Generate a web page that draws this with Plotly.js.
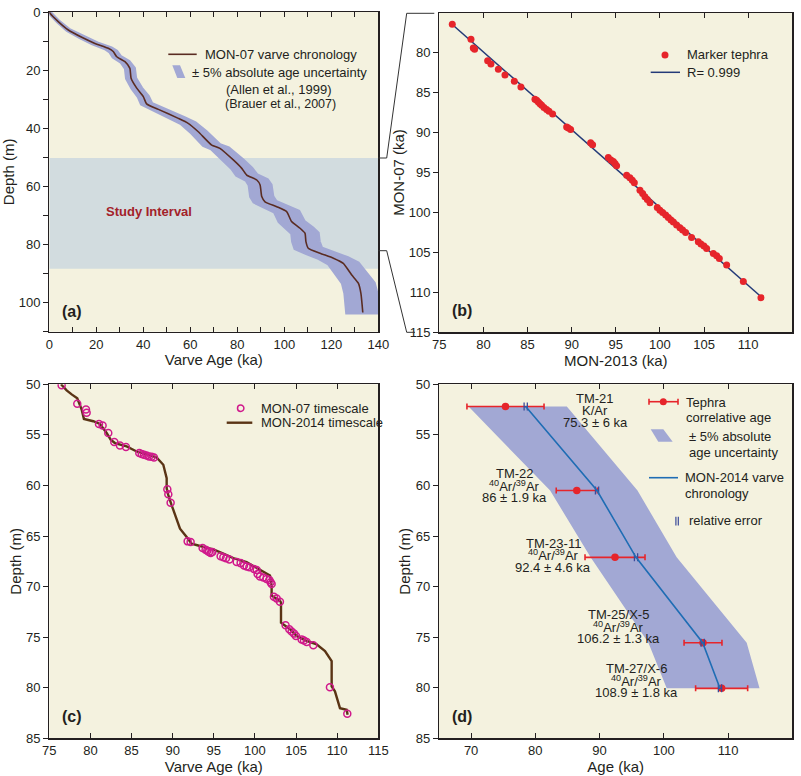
<!DOCTYPE html>
<html>
<head>
<meta charset="utf-8">
<script src="https://cdn.plot.ly/plotly-3.0.1.min.js"></script>
<style>html,body{margin:0;padding:0;background:#fff;}#chart{width:801px;height:776px;}</style>
</head>
<body>
<div id="chart"></div>
<script>
// ---------- Panel (a): MON-07 varve chronology ----------
const ageA = [0, 0.3, 3.8, 8.1, 13.8, 19.4, 25.1, 27.2, 28.7, 32.2, 34.3, 34.8, 37.2, 40.0, 41.4, 46.4, 54.9, 59.1, 63.4, 69.1, 72.6, 78.3, 81.9, 84.0, 88.3, 89.7, 90.4, 91.8, 96.8, 101.0, 103.1, 106.7, 108.8, 109.2, 110.2, 115.2, 120.9, 125.1, 128.7, 131.5, 132.6, 133.4];
const depthA = [0, 0.45, 3.3, 6.2, 8.7, 10.8, 12.5, 13.6, 15.4, 17.1, 19.4, 22.8, 26.2, 29.1, 31.6, 33.5, 36.6, 38.3, 41.2, 45.8, 46.9, 50.9, 53.8, 56.1, 57.8, 59.5, 63.5, 65.3, 67.0, 68.7, 72.1, 74.4, 76.1, 79.0, 81.3, 83.0, 84.7, 86.5, 90.5, 93.3, 96.8, 103.4];
const ageUncertainty = 0.05; // ± 5% absolute age uncertainty
const studyInterval = [50.2, 88.3];

// ---------- Panel (b): marker tephra MON-2013 vs MON-07 ----------
const mon2013 = [76.47, 78.59, 78.85, 79.0, 80.48, 80.85, 81.69, 82.44, 83.50, 84.25, 85.84, 86.03, 86.22, 86.41, 86.60, 86.86, 87.16, 87.43, 87.84, 89.43, 89.62, 89.88, 92.15, 92.37, 94.15, 94.45, 94.72, 94.91, 95.09, 96.23, 96.60, 96.87, 97.10, 97.74, 98.04, 98.30, 98.57, 98.87, 99.70, 100.0, 100.31, 100.65, 100.95, 101.25, 101.52, 101.89, 102.27, 102.57, 102.91, 103.59, 104.35, 104.65, 104.99, 105.29, 106.05, 106.43, 106.73, 107.56, 109.45, 111.45];
const mon07 = [76.46, 78.33, 79.42, 79.58, 81.0, 81.42, 82.08, 82.79, 83.58, 84.29, 85.83, 85.96, 86.17, 86.38, 86.58, 86.88, 87.13, 87.33, 87.67, 89.29, 89.42, 89.63, 91.29, 91.54, 93.13, 93.42, 93.63, 93.88, 94.17, 95.33, 95.67, 95.96, 96.29, 97.21, 97.63, 98.04, 98.38, 98.79, 99.38, 99.71, 100.0, 100.33, 100.63, 100.96, 101.21, 101.58, 101.92, 102.21, 102.5, 103.13, 103.67, 103.96, 104.21, 104.5, 105.13, 105.42, 105.75, 106.58, 108.63, 110.67];
const fitX = [76.6, 111.3];
const fitY = [76.6, 110.4];

// ---------- Panel (c): MON-2014 timescale vs MON-07 timescale ----------
const ageC = [76.42, 77.11, 77.72, 78.40, 78.93, 79.21, 80.35, 81.16, 81.97, 82.46, 82.98, 84.40, 85.62, 86.83, 88.05, 88.86, 89.18, 89.27, 89.27, 89.47, 89.87, 90.40, 90.89, 91.70, 92.30, 93.32, 94.94, 96.16, 97.37, 98.99, 100.0, 101.02, 101.83, 102.03, 102.03, 103.04, 103.17, 103.17, 104.26, 105.07, 106.29, 107.50, 108.52, 109.33, 109.33, 109.73, 110.14, 110.34, 111.15, 111.27];
const depthC = [50.0, 50.60, 51.00, 51.39, 52.49, 53.42, 53.65, 53.92, 54.81, 55.47, 55.81, 56.14, 56.64, 56.97, 57.23, 57.96, 58.96, 59.29, 60.29, 60.95, 61.94, 63.11, 64.27, 65.10, 65.76, 65.99, 66.32, 66.75, 67.19, 67.58, 68.08, 68.51, 68.91, 69.91, 70.90, 71.40, 71.57, 73.56, 74.22, 74.88, 75.38, 75.71, 76.38, 77.37, 79.86, 80.36, 81.35, 82.02, 82.18, 82.68];
const mon07AgeC = [76.50, 78.40, 79.46, 79.54, 81.04, 81.48, 82.17, 82.90, 83.59, 84.32, 85.94, 86.23, 86.51, 86.83, 87.12, 87.44, 87.73, 89.35, 89.47, 89.75, 91.82, 92.18, 93.64, 94.0, 94.21, 94.41, 94.62, 94.82, 95.83, 96.16, 96.48, 96.89, 97.78, 98.26, 98.67, 98.99, 99.32, 99.88, 100.21, 100.33, 100.61, 101.02, 101.42, 101.75, 101.91, 102.03, 102.31, 102.64, 103.04, 103.73, 104.18, 104.46, 104.75, 104.99, 105.68, 105.96, 106.29, 107.10, 109.12, 111.23];
const mon07DepthC = [50.10, 51.92, 52.49, 52.82, 53.92, 54.08, 54.81, 55.71, 56.04, 56.21, 56.80, 56.90, 56.97, 57.03, 57.13, 57.17, 57.23, 60.38, 60.88, 61.71, 65.53, 65.59, 66.19, 66.36, 66.46, 66.59, 66.69, 66.59, 66.99, 67.09, 67.19, 67.32, 67.58, 67.68, 67.92, 68.02, 68.08, 68.25, 68.35, 68.75, 69.01, 69.11, 69.24, 69.34, 69.58, 69.74, 71.0, 71.17, 71.50, 73.82, 74.22, 74.45, 74.65, 74.88, 75.22, 75.32, 75.48, 75.81, 79.96, 82.58];

// ---------- Panel (d): tephra correlative ages ----------
const tephraNames = ['TM-21', 'TM-22', 'TM-23-11', 'TM-25/X-5', 'TM-27/X-6'];
const tephraMethods = ['K/Ar', '<sup>40</sup>Ar/<sup>39</sup>Ar', '<sup>40</sup>Ar/<sup>39</sup>Ar', '<sup>40</sup>Ar/<sup>39</sup>Ar', '<sup>40</sup>Ar/<sup>39</sup>Ar'];
const tephraAgeLabels = ['75.3 ± 6 ka', '86 ± 1.9 ka', '92.4 ± 4.6 ka', '106.2 ± 1.3 ka', '108.9 ± 1.8 ka'];
const tephraDepth = [52.2, 60.5, 67.11, 75.55, 80.06];
const tephraAge = [75.35, 86.45, 92.4, 106.1, 109.0];
const tephraErr = [6.0, 3.2, 4.67, 2.95, 4.05];
const varveAgeD = [78.5, 89.6, 95.67, 106.05, 108.74];
const relErrD = [0.25, 0.25, 0.25, 0.25, 0.25];
const bandDepthD = [52.2, 60.5, 67.11, 75.55, 80.06];
const bandLeftD = [69.6, 82.3, 88.6, 97.6, 100.45];
const bandRightD = [84.9, 95.9, 102.0, 112.9, 114.9];
const labelAgeD = [89.3, 76.8, 82.8, 93.0, 95.8];
const labelDepthD = [52.59, 60.02, 66.88, 73.96, 79.31];

// ---------- styling ----------
const FONT = '"Liberation Sans", Arial, sans-serif';
const INK = '#231f20';
const BG = '#f4f2df';
const BAND = '#a2a8d4';
const BROWN = '#5a2c22';
const BROWN_C = '#5a3415';
const RED = '#e6252b';
const MAGENTA = '#d01a8c';
const NAVY = '#233a78';
const BLUE = '#1f6db4';
const W = 801, H = 776;
const PX = x => x / W;
const PY = y => 1 - y / H;

const rev = a => a.slice().reverse();
const bandLowA = ageA.map(v => v * (1 - ageUncertainty));
const bandHighA = ageA.map(v => v * (1 + ageUncertainty));

const traces = [
  // (a)
  {x: bandLowA.concat(rev(bandHighA)), y: depthA.concat(rev(depthA)), type: 'scatter', mode: 'lines',
   fill: 'toself', fillcolor: BAND, line: {width: 4, color: BAND}, xaxis: 'x', yaxis: 'y', hoverinfo: 'skip', showlegend: false},
  {x: ageA, y: depthA, type: 'scatter', mode: 'lines', line: {color: BROWN, width: 1.6, shape: 'spline', smoothing: 0.5}, xaxis: 'x', yaxis: 'y', showlegend: false},
  // (b)
  {x: fitX, y: fitY, type: 'scatter', mode: 'lines', line: {color: NAVY, width: 1.5}, xaxis: 'x2', yaxis: 'y2', showlegend: false},
  {x: mon2013, y: mon07, type: 'scatter', mode: 'markers', marker: {color: RED, size: 7}, xaxis: 'x2', yaxis: 'y2', showlegend: false},
  // (c)
  {x: ageC, y: depthC, type: 'scatter', mode: 'lines', line: {color: BROWN_C, width: 2.4}, xaxis: 'x3', yaxis: 'y3', showlegend: false},
  {x: mon07AgeC, y: mon07DepthC, type: 'scatter', mode: 'markers',
   marker: {symbol: 'circle-open', color: MAGENTA, size: 7, line: {width: 1.5, color: MAGENTA}}, xaxis: 'x3', yaxis: 'y3', showlegend: false},
  // (d)
  {x: bandLeftD.concat(rev(bandRightD)), y: bandDepthD.concat(rev(bandDepthD)), type: 'scatter', mode: 'lines',
   fill: 'toself', fillcolor: BAND, line: {width: 0}, xaxis: 'x4', yaxis: 'y4', hoverinfo: 'skip', showlegend: false},
  {x: tephraAge, y: tephraDepth, type: 'scatter', mode: 'markers', marker: {color: RED, size: 7.5},
   error_x: {type: 'data', array: tephraErr, visible: true, color: RED, thickness: 1.6, width: 3},
   xaxis: 'x4', yaxis: 'y4', showlegend: false},
  {x: varveAgeD, y: tephraDepth, type: 'scatter', mode: 'lines', line: {color: BLUE, width: 1.6},
   error_x: {type: 'data', array: relErrD, visible: true, color: '#3a4a9a', thickness: 1.3, width: 4},
   xaxis: 'x4', yaxis: 'y4', showlegend: false}
];

function xAx(domain, range, dtick, minorDtick, anchor, title, tickvals) {
  const ax = {domain: domain, range: range, anchor: anchor, dtick: dtick, tick0: 0,
    ticks: 'inside', ticklen: 5, tickwidth: 1, tickcolor: INK, mirror: 'ticks',
    showline: true, linecolor: INK, linewidth: 1.2, showgrid: false, zeroline: false,
    tickfont: {family: FONT, size: 13, color: INK},
    title: {text: title, font: {family: FONT, size: 15, color: INK}, standoff: 3}};
  if (minorDtick) ax.minor = {dtick: minorDtick, ticks: 'inside', ticklen: 5, tickcolor: INK, tickwidth: 1};
  if (tickvals) { ax.tickmode = 'array'; ax.tickvals = tickvals; }
  return ax;
}
function yAx(domain, range, dtick, minorDtick, anchor, title, standoff, tickvals) {
  const ax = {domain: domain, range: range, anchor: anchor, dtick: dtick, tick0: 0,
    ticks: 'outside', ticklen: 5, tickwidth: 1, tickcolor: INK, mirror: true,
    showline: true, linecolor: INK, linewidth: 1.2, showgrid: false, zeroline: false,
    tickfont: {family: FONT, size: 13, color: INK},
    title: {text: title, font: {family: FONT, size: 15, color: INK}, standoff: standoff}};
  if (minorDtick) ax.minor = {dtick: minorDtick, ticks: 'outside', ticklen: 5, tickcolor: INK, tickwidth: 1};
  if (tickvals) { ax.tickmode = 'array'; ax.tickvals = tickvals; }
  return ax;
}
function yRight(over, anchor, dtick, minorDtick) {
  const ax = {overlaying: over, matches: over, side: 'right', anchor: anchor, dtick: dtick, tick0: 0,
    ticks: 'inside', ticklen: 5, tickwidth: 1, tickcolor: INK, showticklabels: false,
    showline: false, showgrid: false, zeroline: false};
  if (minorDtick) ax.minor = {dtick: minorDtick, ticks: 'inside', ticklen: 5, tickcolor: INK, tickwidth: 1};
  return ax;
}

const domAx = [PX(49.3), PX(378.3)], domBx = [PX(439.3), PX(792.3)];
const domAy = [PY(331.7), PY(12)], domBy = [PY(332.3), PY(12.7)];
const domCy = [PY(738.3), PY(384.3)];

const layout = {
  width: W, height: H,
  margin: {l: 0, r: 0, t: 0, b: 0},
  paper_bgcolor: '#ffffff', plot_bgcolor: BG,
  font: {family: FONT, size: 13, color: INK},
  showlegend: false,
  xaxis: xAx(domAx, [0, 140], 20, 10, 'y', 'Varve Age (ka)'),
  yaxis: yAx(domAy, [110, 0], 20, 10, 'x', 'Depth (m)', 0),
  xaxis2: xAx(domBx, [75, 115], 5, null, 'y2', 'MON-2013 (ka)'),
  yaxis2: yAx(domBy, [115, 75], 5, null, 'x2', 'MON-07 (ka)', 0, [80, 85, 90, 95, 100, 105, 110, 115]),
  xaxis3: xAx(domAx, [75, 115], 5, null, 'y3', 'Varve Age (ka)'),
  yaxis3: yAx(domCy, [85, 50], 5, null, 'x3', 'Depth (m)', 0),
  xaxis4: xAx([PX(439), PX(792.3)], [65, 120], 10, null, 'y4', 'Age (ka)', [70, 80, 90, 100, 110, 120]),
  yaxis4: yAx(domCy, [85, 50], 5, null, 'x4', 'Depth (m)', 1),
  yaxis5: yRight('y', 'x', 20, 10),
  yaxis6: yRight('y2', 'x2', 5, null),
  yaxis7: yRight('y3', 'x3', 5, null),
  yaxis8: yRight('y4', 'x4', 5, null),
  shapes: [],
  annotations: []
};

// study interval
layout.shapes.push({type: 'rect', xref: 'x', yref: 'y', x0: 0, x1: 140, y0: studyInterval[0], y1: studyInterval[1],
  fillcolor: '#d2dcdf', line: {width: 0}, layer: 'below'});
layout.annotations.push({xref: 'x', yref: 'y', x: 42.3, y: 68.8, text: '<b>Study Interval</b>', showarrow: false,
  font: {family: FONT, size: 13, color: '#a3222a'}});

// connectors between (a) and (b)
const pathOf = pts => 'M ' + pts.map(p => PX(p[0]) + ',' + PY(p[1])).join(' L ');
layout.shapes.push({type: 'path', xref: 'paper', yref: 'paper', path: pathOf([[378.3, 158], [386.7, 158], [406.7, 13.3], [434.3, 13.3]]), line: {color: '#333', width: 1}});
layout.shapes.push({type: 'path', xref: 'paper', yref: 'paper', path: pathOf([[378.3, 250.7], [386.7, 250.7], [406.7, 332.3], [415, 332.3]]), line: {color: '#333', width: 1}});

// legend helpers
function legLine(x0, x1, y0, y1, color, width) {
  layout.shapes.push({type: 'line', xref: 'paper', yref: 'paper', x0: PX(x0), x1: PX(x1), y0: PY(y0), y1: PY(y1), line: {color: color, width: width}});
}
function legDot(cx, cy, r, color, open) {
  layout.shapes.push({type: 'circle', xref: 'paper', yref: 'paper', x0: PX(cx - r), x1: PX(cx + r), y0: PY(cy + r), y1: PY(cy - r),
    fillcolor: open ? 'rgba(0,0,0,0)' : color, line: {color: color, width: open ? 1.5 : 0}});
}
function legPoly(pts, color) {
  layout.shapes.push({type: 'path', xref: 'paper', yref: 'paper', path: pathOf(pts) + ' Z', fillcolor: color, line: {width: 0}});
}
function legText(x, y, text, size, anchor) {
  layout.annotations.push({xref: 'paper', yref: 'paper', x: PX(x), y: PY(y), text: text, showarrow: false,
    xanchor: anchor || 'left', yanchor: 'middle', font: {family: FONT, size: size || 13, color: INK}});
}

// legend (a)
legLine(168.3, 196.7, 54.3, 54.3, BROWN, 1.6);
legText(203, 54.3, 'MON-07 varve chronology');
legPoly([[172.3, 65.3], [180, 65.3], [185.3, 78], [177.3, 78]], BAND);
legText(190, 72.7, '± 5% absolute age uncertainty');
legText(279, 89.3, '(Allen et al., 1999)', 13, 'center');
legText(280.7, 104, '(Brauer et al., 2007)', 12.5, 'center');

// legend (b)
legDot(665, 55, 3.5, RED, false);
legText(685, 55, 'Marker tephra');
legLine(650.7, 680, 72.3, 72.3, NAVY, 1.5);
legText(685, 72.3, 'R= 0.999');

// legend (c)
legDot(240.7, 408.3, 3.2, MAGENTA, true);
legText(259, 408.3, 'MON-07 timescale');
legLine(226.7, 252.3, 422.7, 422.7, BROWN_C, 2.4);
legText(259, 422.7, 'MON-2014 timescale');

// legend (d)
legLine(649, 678, 401.7, 401.7, RED, 1.6);
legLine(649, 649, 398.7, 404.7, RED, 1.6);
legLine(678, 678, 398.7, 404.7, RED, 1.6);
legDot(663.3, 401.7, 3.5, RED, false);
legText(684, 402.5, 'Tephra');
legText(684, 417, 'correlative age');
legPoly([[650.7, 429.3], [663.3, 429.3], [672.7, 441.7], [658.3, 441.7]], BAND);
legText(687, 436.7, '± 5% absolute');
legText(687, 452.7, 'age uncertainty');
legLine(649, 678, 477.7, 477.7, BLUE, 1.6);
legText(683, 477.7, 'MON-2014 varve');
legText(683, 494, 'chronology');
legLine(675.9, 675.9, 516.7, 525.5, '#3a4a9a', 1.2);
legLine(678.3, 678.3, 516.7, 525.5, '#3a4a9a', 1.2);
legText(687, 520, 'relative error');

// tephra labels in (d)
const lineGap = 12;
tephraNames.forEach((name, i) => {
  [name, tephraMethods[i], tephraAgeLabels[i]].forEach((t, j) => {
    layout.annotations.push({xref: 'x4', yref: 'y4', x: labelAgeD[i], y: labelDepthD[i], yshift: (1 - j) * lineGap,
      text: t, showarrow: false, xanchor: 'center', yanchor: 'middle', font: {family: FONT, size: 13, color: INK}});
  });
});

// panel labels
[['(a)', 72.2, 311], ['(b)', 462.2, 310], ['(c)', 72.2, 716], ['(d)', 462.2, 716.7]].forEach(p => {
  layout.annotations.push({xref: 'paper', yref: 'paper', x: PX(p[1]), y: PY(p[2]), text: '<b>' + p[0] + '</b>', showarrow: false,
    xanchor: 'center', yanchor: 'middle', font: {family: FONT, size: 16, color: INK}});
});

Plotly.newPlot('chart', traces, layout, {staticPlot: true, displayModeBar: false});
</script>
</body>
</html>
